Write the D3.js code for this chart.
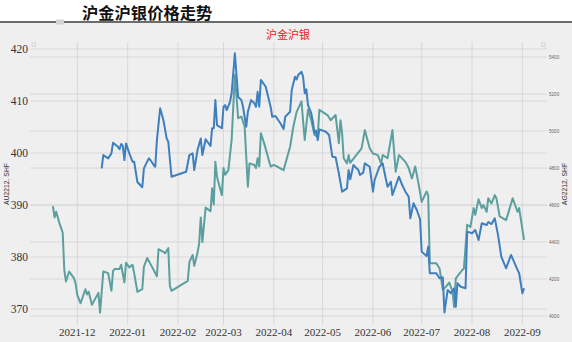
<!DOCTYPE html>
<html><head><meta charset="utf-8">
<script src="https://cdn.jsdelivr.net/npm/d3@7"></script>
<style>html,body{margin:0;padding:0;background:#fff;}svg{display:block;}</style>
</head><body>
<svg id="c" width="572" height="342"></svg>
<script>
const title = "沪金沪银价格走势";
const subtitle = "沪金沪银";
const leftLabel = "AU2212. SHF";
const rightLabel = "AG2212. SHF";
const leftTicks = [370, 380, 390, 400, 410, 420];
const rightTicks = [4000, 4200, 4400, 4600, 4800, 5000, 5200, 5400];
const monthTicks = ["2021-12","2022-01","2022-02","2022-03","2022-04","2022-05","2022-06","2022-07","2022-08","2022-09"];

const auDates = ["2021-11-16","2021-11-17","2021-11-18","2021-11-19","2021-11-20","2021-11-22","2021-11-23","2021-11-24","2021-11-26","2021-11-29","2021-11-30",
"2021-12-01","2021-12-03","2021-12-06","2021-12-07","2021-12-08","2021-12-10","2021-12-14","2021-12-15","2021-12-17","2021-12-20","2021-12-22","2021-12-23","2021-12-24","2021-12-27","2021-12-28","2021-12-30","2021-12-31",
"2022-01-02","2022-01-04","2022-01-05","2022-01-07","2022-01-10","2022-01-11","2022-01-13","2022-01-16","2022-01-19","2022-01-20","2022-01-23","2022-01-24","2022-01-26","2022-01-27","2022-01-28",
"2022-02-07","2022-02-08","2022-02-10","2022-02-11","2022-02-13","2022-02-14","2022-02-15","2022-02-16","2022-02-18","2022-02-21","2022-02-22","2022-02-23","2022-02-24","2022-02-25","2022-02-28",
"2022-03-01","2022-03-02","2022-03-04","2022-03-06","2022-03-08","2022-03-10","2022-03-12","2022-03-14","2022-03-16","2022-03-17","2022-03-20","2022-03-21","2022-03-22","2022-03-23","2022-03-24","2022-03-26","2022-03-30",
"2022-04-01","2022-04-03","2022-04-07","2022-04-09","2022-04-11","2022-04-13","2022-04-15","2022-04-18","2022-04-20","2022-04-22","2022-04-24","2022-04-26","2022-04-28","2022-04-29",
"2022-05-04","2022-05-06","2022-05-09","2022-05-11","2022-05-12","2022-05-13","2022-05-14","2022-05-16","2022-05-17","2022-05-18","2022-05-21","2022-05-25","2022-05-27","2022-05-30",
"2022-06-01","2022-06-04","2022-06-06","2022-06-07","2022-06-10","2022-06-13","2022-06-15","2022-06-17","2022-06-21","2022-06-23","2022-06-25","2022-06-27","2022-06-29",
"2022-07-01","2022-07-04","2022-07-05","2022-07-06","2022-07-10","2022-07-12","2022-07-14","2022-07-16","2022-07-18","2022-07-20","2022-07-21","2022-07-22","2022-07-26","2022-07-27","2022-07-29","2022-07-31",
"2022-08-02","2022-08-03","2022-08-05","2022-08-07","2022-08-08","2022-08-10","2022-08-11","2022-08-13","2022-08-15","2022-08-16","2022-08-18","2022-08-22","2022-08-26","2022-08-29","2022-08-30","2022-09-02"];
const auValues = [389.8,387.6,388.7,387.6,386.5,384.7,377.5,375.3,377.2,375.9,374.8,
372.7,371.1,373.8,372.8,373.3,370.8,373.1,369.3,377.2,376.9,373.5,377.3,377.7,377.7,378.5,375.1,378.9,
378.0,378.5,376.9,373.3,373.8,378.1,379.8,378.1,376.3,381.5,381.0,380.7,381.7,374.4,373.5,
375.4,379.0,380.4,378.3,380.8,382.6,387.6,382.9,389.5,388.8,393.2,390.1,398.3,395.4,391.9,
397.1,395.8,396.7,402.5,415.0,406.7,407.0,405.1,393.5,398.0,397.7,397.1,399.0,397.4,403.8,401.9,397.4,
397.7,397.4,396.7,399.0,401.2,405.1,407.9,409.9,402.5,408.3,406.3,403.5,403.1,408.3,
407.3,406.3,407.3,401.9,406.3,403.8,399.0,398.0,399.6,398.1,399.3,400.9,404.4,400.9,
399.9,399.6,398.0,399.6,399.0,404.4,396.4,399.6,398.3,397.1,395.1,397.4,394.2,
390.6,392.6,391.9,378.8,378.8,377.8,373.7,374.3,375.1,373.3,370.4,375.9,377.5,377.8,386.2,385.8,
389.4,388.1,391.1,389.4,390.0,388.7,391.3,390.3,391.9,391.3,387.8,387.1,391.3,388.7,389.4,383.3];

const agDates = ["2021-12-16","2021-12-17","2021-12-20","2021-12-22","2021-12-23","2021-12-26","2021-12-27","2021-12-28","2021-12-29","2021-12-30","2021-12-31",
"2022-01-02","2022-01-04","2022-01-05","2022-01-07","2022-01-10","2022-01-11","2022-01-14","2022-01-15","2022-01-17","2022-01-18","2022-01-19","2022-01-21","2022-01-23","2022-01-25","2022-01-26","2022-01-28",
"2022-02-06","2022-02-08","2022-02-10","2022-02-11","2022-02-13","2022-02-15","2022-02-16","2022-02-18","2022-02-21","2022-02-22","2022-02-23","2022-02-24","2022-02-25","2022-02-28",
"2022-03-01","2022-03-02","2022-03-03","2022-03-05","2022-03-06","2022-03-08","2022-03-10","2022-03-12","2022-03-13","2022-03-15","2022-03-16","2022-03-18","2022-03-20","2022-03-21","2022-03-22","2022-03-23","2022-03-24","2022-03-27","2022-03-30","2022-03-31",
"2022-04-02","2022-04-05","2022-04-07","2022-04-08","2022-04-11","2022-04-12","2022-04-14","2022-04-15","2022-04-16","2022-04-18","2022-04-19","2022-04-20","2022-04-21","2022-04-22","2022-04-24","2022-04-25","2022-04-26","2022-04-27","2022-04-28","2022-04-29",
"2022-05-03","2022-05-05","2022-05-07","2022-05-09","2022-05-11","2022-05-13","2022-05-16","2022-05-17","2022-05-18","2022-05-20","2022-05-23","2022-05-24","2022-05-26","2022-05-27","2022-05-30",
"2022-06-01","2022-06-02","2022-06-05","2022-06-07","2022-06-08","2022-06-10","2022-06-12","2022-06-13","2022-06-17","2022-06-19","2022-06-21","2022-06-23","2022-06-24","2022-06-26","2022-06-28","2022-06-30",
"2022-07-01","2022-07-04","2022-07-05","2022-07-06","2022-07-10","2022-07-12","2022-07-14","2022-07-15","2022-07-17","2022-07-19","2022-07-21","2022-07-22","2022-07-23","2022-07-25","2022-07-28","2022-07-29",
"2022-08-01","2022-08-03","2022-08-05","2022-08-07","2022-08-10","2022-08-11","2022-08-13","2022-08-15","2022-08-17","2022-08-19","2022-08-22","2022-08-25","2022-08-29","2022-08-30","2022-09-01","2022-09-02"];
const agValues = [4798,4870,4852,4879,4937,4915,4901,4930,4919,4843,4933,
4879,4834,4834,4724,4696,4798,4852,4843,4816,4807,4951,5123,5059,4960,4942,4753,
4780,4870,4879,4789,4897,4960,4870,4955,4919,5015,5015,5167,5032,5015,
5131,5140,5113,5158,5204,5420,5185,5167,5131,5023,5104,5167,5150,5131,5212,5131,5276,5239,5131,5077,
5081,5042,5011,5077,5104,5222,5293,5279,5303,5320,5293,5204,5225,5140,5096,5050,4988,5002,4951,5009,
4996,4978,4861,4858,4771,4672,4690,4789,4739,4816,4789,4762,4775,4825,4807,
4672,4735,4807,4825,4780,4699,4726,4654,4753,4708,4672,4645,4528,4609,4573,4523,
4348,4324,4375,4231,4231,4204,4209,4019,4141,4123,4150,4050,4177,4158,4150,4456,
4447,4465,4411,4501,4492,4508,4497,4528,4438,4321,4258,4330,4249,4231,4123,4150];

const parse = d3.utcParse("%Y-%m-%d");
const au = auDates.map((d,i)=>({date:parse(d), v:auValues[i]}));
const ag = agDates.map((d,i)=>({date:parse(d), v:agValues[i]}));

const svg = d3.select("#c");
const W = 572, H = 342;
const plotL = 30, plotR = 547, plotT = 42, plotB = 325;

// background
svg.append("rect").attr("x",0).attr("y",0).attr("width",W).attr("height",H).attr("fill","#ffffff");
svg.append("rect").attr("x",0).attr("y",23).attr("width",W).attr("height",H-23).attr("fill","#efefef");
svg.append("line").attr("x1",0).attr("x2",W).attr("y1",22).attr("y2",22).attr("stroke","#3a3a3a").attr("stroke-width",1.6);
svg.append("rect").attr("x",56).attr("y",19.5).attr("width",8).attr("height",5).attr("fill","#d2d2d2");

const x = d3.scaleUtc().domain([parse("2021-12-01"), parse("2022-09-01")]).range([77.3, 522.4]);
const yL = d3.scaleLinear().domain([370, 420]).range([309, 49]);
const yR = d3.scaleLinear().domain([4000, 5400]).range([316, 57]);

const grid = svg.append("g").attr("stroke","#d8d8d8").attr("stroke-width",1);
grid.selectAll(".gl").data(leftTicks).join("line")
  .attr("x1",plotL).attr("x2",plotR).attr("y1",d=>yL(d)).attr("y2",d=>yL(d));
grid.selectAll(".gr").data(rightTicks).join("line").attr("class","gr")
  .attr("x1",plotL).attr("x2",plotR).attr("y1",d=>yR(d)).attr("y2",d=>yR(d));
grid.selectAll(".gv").data(monthTicks).join("line").attr("class","gv")
  .attr("x1",d=>x(parse(d+"-01"))).attr("x2",d=>x(parse(d+"-01"))).attr("y1",plotT).attr("y2",plotB);

// corner markers
[[32,43],[541.5,43]].forEach(p=>{
  svg.append("rect").attr("x",p[0]).attr("y",p[1]).attr("width",3.5).attr("height",3.5)
    .attr("fill","none").attr("stroke","#cfcfcf").attr("stroke-width",0.8);
});

// left tick labels
svg.append("g").selectAll("text").data(leftTicks).join("text")
  .attr("x",28).attr("y",d=>yL(d)).attr("dy","0.35em").attr("text-anchor","end")
  .attr("font-family","Liberation Serif, serif").attr("font-size",11.5).attr("fill","#333")
  .text(d=>d);
// right tick labels
svg.append("g").selectAll("text").data(rightTicks).join("text")
  .attr("x",549).attr("y",d=>yR(d)).attr("dy","0.35em").attr("text-anchor","start")
  .attr("font-family","Liberation Sans, sans-serif").attr("font-size",4.6).attr("fill","#666")
  .text(d=>d);
// x labels
svg.append("g").selectAll("text").data(monthTicks).join("text")
  .attr("x",d=>x(parse(d+"-01"))).attr("y",336).attr("text-anchor","middle")
  .attr("font-family","Liberation Serif, serif").attr("font-size",11).attr("fill","#333")
  .text(d=>d);

// axis titles
svg.append("text").attr("transform","translate(9,184) rotate(-90)").attr("text-anchor","middle")
  .attr("font-family","Liberation Sans, sans-serif").attr("font-size",6.8).attr("fill","#333").text(leftLabel);
svg.append("text").attr("transform","translate(567,184) rotate(-90)").attr("text-anchor","middle")
  .attr("font-family","Liberation Sans, sans-serif").attr("font-size",6.8).attr("fill","#333").text(rightLabel);

// titles
svg.append("text").attr("x",82).attr("y",19).attr("font-family","Noto Sans CJK SC, sans-serif")
  .attr("font-weight","bold").attr("font-size",16.3).attr("fill","#111").text(title);
svg.append("text").attr("x",288).attr("y",39).attr("text-anchor","middle").attr("font-family","Noto Sans CJK SC, sans-serif")
  .attr("font-size",11).attr("fill","#e8211b").text(subtitle);

// lines
const lineL = d3.line().x(d=>x(d.date)).y(d=>yL(d.v));
const lineR = d3.line().x(d=>x(d.date)).y(d=>yR(d.v));
svg.append("path").datum(au).attr("d",lineL).attr("fill","none").attr("stroke","#5b9f9e").attr("stroke-width",2).attr("stroke-linejoin","round");
svg.append("path").datum(ag).attr("d",lineR).attr("fill","none").attr("stroke","#3e7fbd").attr("stroke-width",2).attr("stroke-linejoin","round");
</script>
</body></html>
